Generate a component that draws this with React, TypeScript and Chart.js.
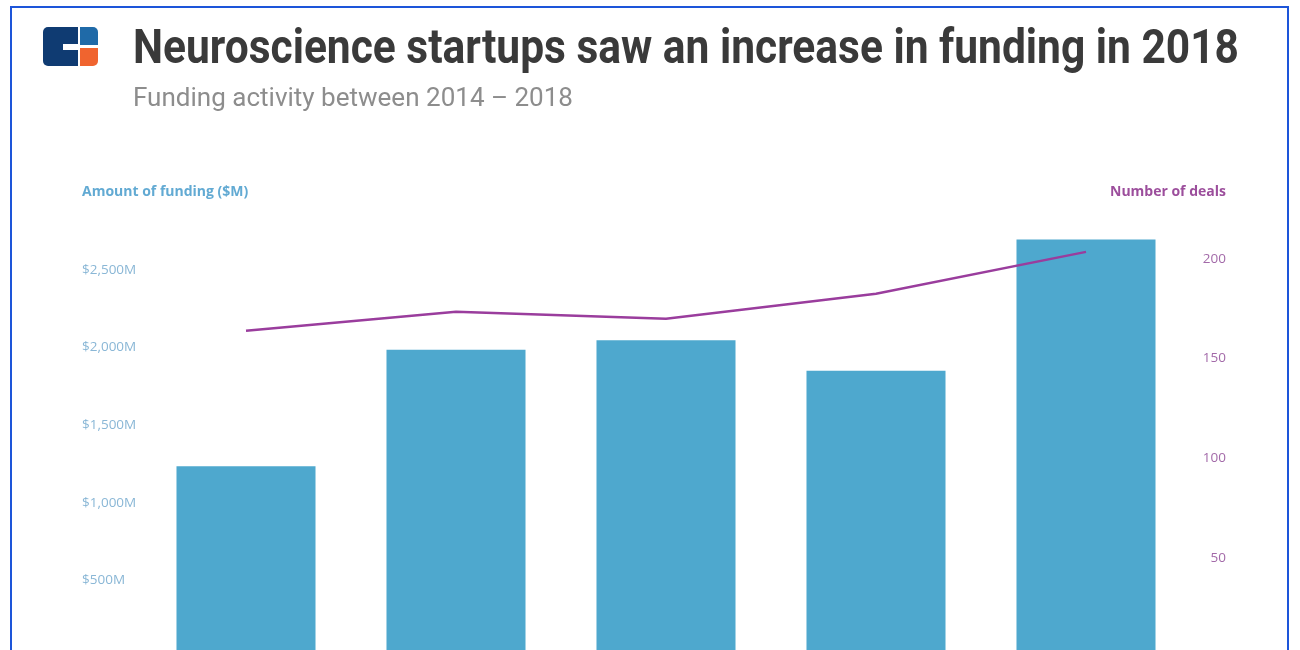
import React, { useEffect, useRef } from "react";
import { Chart, registerables } from "chart.js";

Chart.register(...registerables);

const years = ["2014", "2015", "2016", "2017", "2018"];
const fundingM = [1235, 1985, 2045, 1850, 2695];
const deals = [164, 173.5, 170, 182.5, 203.5];
const leftTicks = [0, 500, 1000, 1500, 2000, 2500];
const rightTicks = [0, 50, 100, 150, 200];

const TITLE = "Neuroscience startups saw an increase in funding in 2018";
const SUBTITLE = "Funding activity between 2014 \u2013 2018";

function fmtMoney(v: number) {
  if (v === 0) return "$0";
  return "$" + v.toLocaleString("en-US") + "M";
}

function FitText(props: { text: string; width: number; style: React.CSSProperties }) {
  const ref = useRef<HTMLSpanElement | null>(null);
  useEffect(() => {
    const el = ref.current;
    if (!el) return;
    el.style.transform = "none";
    const w = el.getBoundingClientRect().width;
    if (w > 0) el.style.transform = `scaleX(${props.width / w})`;
  }, [props.text, props.width]);
  return (
    <span
      ref={ref}
      style={{ display: "inline-block", whiteSpace: "nowrap", transformOrigin: "0 0", ...props.style }}
    >
      {props.text}
    </span>
  );
}

export default function App() {
  const canvasRef = useRef<HTMLCanvasElement | null>(null);

  useEffect(() => {
    const canvas = canvasRef.current;
    if (!canvas) return;
    const chart = new Chart(canvas, {
      data: {
        labels: years,
        datasets: [
          {
            type: "line",
            label: "Number of deals",
            data: deals,
            yAxisID: "yRight",
            borderColor: "#9a3d9d",
            backgroundColor: "#9a3d9d",
            borderWidth: 2.5,
            pointRadius: 0,
            tension: 0,
            order: 0,
          },
          {
            type: "bar",
            label: "Amount of funding ($M)",
            data: fundingM,
            yAxisID: "yLeft",
            backgroundColor: "#4ea8ce",
            borderWidth: 0,
            barPercentage: 0.662,
            categoryPercentage: 1,
            order: 1,
          },
        ],
      },
      options: {
        responsive: false,
        animation: false,
        layout: { padding: { left: 82, right: 74, top: 192, bottom: 0 } },
        plugins: { legend: { display: false }, tooltip: { enabled: false }, title: { display: false } },
        scales: {
          x: {
            type: "category",
            grid: { display: false },
            border: { display: false },
            ticks: { color: "#8a8a8a", font: { family: "Open Sans", size: 12 } },
            afterFit: (s: any) => {
              s.height = 42;
            },
          },
          yLeft: {
            type: "linear",
            position: "left",
            min: 0,
            max: 3000,
            grid: { display: false },
            border: { display: false },
            ticks: {
              stepSize: 500,
              crossAlign: "far",
              color: "#8ab7d6",
              font: { family: "Open Sans", size: 13.5 },
              callback: (v: any) => fmtMoney(Number(v)),
            },
            afterBuildTicks: (s: any) => {
              s.ticks = leftTicks.map((v) => ({ value: v }));
            },
            afterFit: (s: any) => {
              s.width = 59;
            },
          },
          yRight: {
            type: "linear",
            position: "right",
            min: 0,
            max: 233.5,
            grid: { display: false },
            border: { display: false },
            ticks: {
              stepSize: 50,
              crossAlign: "far",
              color: "#a36aa9",
              font: { family: "Open Sans", size: 13.5 },
            },
            afterBuildTicks: (s: any) => {
              s.ticks = rightTicks.map((v) => ({ value: v }));
            },
            afterFit: (s: any) => {
              s.width = 35;
            },
          },
        },
      } as any,
    });
    return () => chart.destroy();
  }, []);

  return (
    <div
      style={{
        position: "fixed",
        left: 0,
        top: 0,
        width: 1300,
        height: 650,
        overflow: "hidden",
        background: "#ffffff",
      }}
    >
      <canvas
        ref={canvasRef}
        width={1300}
        height={700}
        style={{ position: "absolute", left: 0, top: 0, width: 1300, height: 700 }}
      />
      {/* frame */}
      <div
        style={{
          position: "absolute",
          left: 10,
          top: 6,
          width: 1279,
          height: 800,
          border: "2px solid #1d55d9",
          boxSizing: "border-box",
          pointerEvents: "none",
        }}
      />
      {/* logo */}
      <div style={{ position: "absolute", left: 43, top: 27, width: 35, height: 39, background: "#0f3b72", borderRadius: "5px 0 0 5px" }} />
      <div style={{ position: "absolute", left: 63, top: 44, width: 15, height: 6, background: "#ffffff" }} />
      <div style={{ position: "absolute", left: 80, top: 27, width: 18, height: 18, background: "#1f6aa8", borderRadius: "0 5px 0 0" }} />
      <div style={{ position: "absolute", left: 80, top: 48, width: 18, height: 18, background: "#f0642f", borderRadius: "0 0 5px 0" }} />
      {/* title */}
      <div style={{ position: "absolute", left: 133, top: 23, lineHeight: "48px" }}>
        <FitText
          text={TITLE}
          width={1106}
          style={{ fontFamily: "Roboto", fontWeight: 700, fontSize: 48, color: "#3a3a3a" }}
        />
      </div>
      <div style={{ position: "absolute", left: 133, top: 85, lineHeight: "26px" }}>
        <FitText
          text={SUBTITLE}
          width={440}
          style={{ fontFamily: "Roboto", fontWeight: 400, fontSize: 25, color: "#8d8d8d" }}
        />
      </div>
      {/* axis titles */}
      <div
        style={{
          position: "absolute",
          left: 82,
          top: 182,
          fontFamily: "Open Sans",
          fontWeight: 700,
          fontSize: 14,
          color: "#62aad3",
          whiteSpace: "nowrap",
          lineHeight: "18px",
        }}
      >
        Amount of funding ($M)
      </div>
      <div
        style={{
          position: "absolute",
          right: 1300 - 1226,
          top: 182,
          fontFamily: "Open Sans",
          fontWeight: 700,
          fontSize: 14,
          color: "#9c4e9c",
          whiteSpace: "nowrap",
          lineHeight: "18px",
        }}
      >
        Number of deals
      </div>
    </div>
  );
}
